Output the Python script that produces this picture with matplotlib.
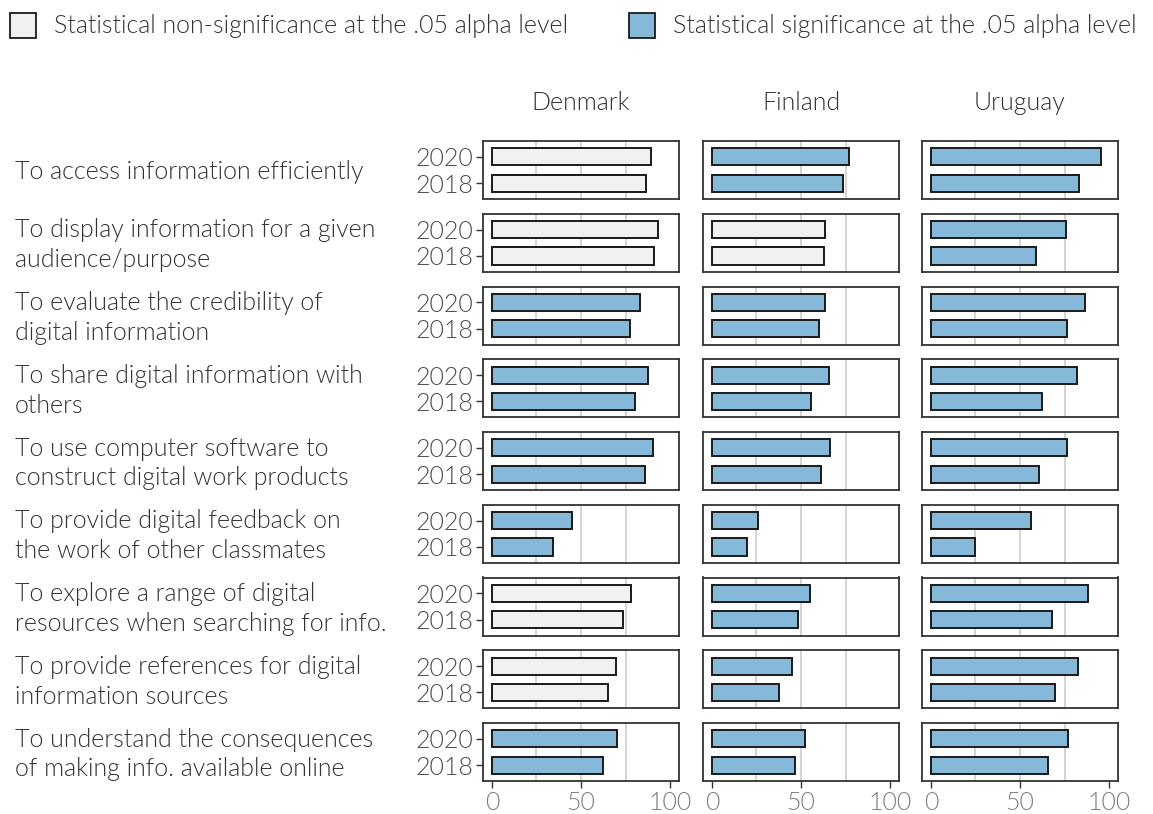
import matplotlib.pyplot as plt
from matplotlib.patches import Rectangle

plt.rcParams['font.family'] = ['Lato', 'DejaVu Sans']
plt.rcParams['font.weight'] = 300

countries = ['Denmark', 'Finland', 'Uruguay']
years = ['2020', '2018']
items = [
    'To access information efficiently',
    'To display information for a given\naudience/purpose',
    'To evaluate the credibility of\ndigital information',
    'To share digital information with\nothers',
    'To use computer software to\nconstruct digital work products',
    'To provide digital feedback on\nthe work of other classmates',
    'To explore a range of digital\nresources when searching for info.',
    'To provide references for digital\ninformation sources',
    'To understand the consequences\nof making info. available online',
]

denmark_2020 = [89.3, 93.3, 83.3, 87.6, 90.2, 45.0, 78.1, 69.8, 70.2]
denmark_2018 = [86.2, 90.7, 77.4, 80.2, 85.7, 34.5, 73.8, 65.2, 62.1]
finland_2020 = [76.9, 63.6, 63.6, 65.5, 66.0, 25.7, 55.2, 44.8, 52.4]
finland_2018 = [73.3, 63.1, 60.0, 55.7, 61.2, 19.5, 48.3, 37.6, 46.9]
uruguay_2020 = [95.5, 75.7, 86.4, 81.9, 76.2, 56.0, 87.9, 82.4, 76.7]
uruguay_2018 = [83.3, 59.0, 76.4, 62.4, 60.5, 25.0, 67.9, 69.5, 65.5]

# significance at .05 level per country and item
denmark_sig = [False, False, True, True, True, True, False, False, True]
finland_sig = [True, False, True, True, True, True, True, True, True]
uruguay_sig = [True, True, True, True, True, True, True, True, True]

values = {
    'Denmark': (denmark_2020, denmark_2018, denmark_sig),
    'Finland': (finland_2020, finland_2018, finland_sig),
    'Uruguay': (uruguay_2020, uruguay_2018, uruguay_sig),
}

W, H = 1153, 814
col_left = [483, 703, 922]
panel_w = 196
row_top0 = 141
row_step = 72.75
panel_h = 58

sig_color = '#85b8d9'
nonsig_color = '#f2f0f0'
text_color = '#333333'
tick_color = '#4d4d4d'

fig = plt.figure(figsize=(W / 100, H / 100), dpi=100)


def px_box(x, y, w, h):
    # pixel box (top-left origin) -> figure fraction rect
    return [x / W, 1 - (y + h) / H, w / W, h / H]


for r, item in enumerate(items):
    top = row_top0 + r * row_step
    for c, country in enumerate(countries):
        v20, v18, sig = values[country]
        ax = fig.add_axes(px_box(col_left[c], top, panel_w, panel_h))
        for g in [25, 50, 75]:
            ax.axvline(g, color='#c9c9c9', lw=1.1, zorder=0)
        color = sig_color if sig[r] else nonsig_color
        ax.barh([0, 1], [v20[r], v18[r]], height=0.65, color=color,
                edgecolor='#1a1a1a', linewidth=1.4, zorder=2)
        ax.set_xlim(-5, 105)
        ax.set_ylim(1.6, -0.6)
        for s in ax.spines.values():
            s.set_color('#333333')
            s.set_linewidth(1.3)
        if c == 0:
            ax.set_yticks([0, 1])
            ax.set_yticklabels(years, fontsize=18, color=tick_color)
            ax.tick_params(axis='y', length=5, width=1, color='#333333', pad=2)
        else:
            ax.set_yticks([])
        if r == len(items) - 1:
            ax.set_xticks([0, 50, 100])
            ax.set_xticklabels(['0', '50', '100'], fontsize=18, color='#7f7f7f')
            ax.tick_params(axis='x', length=5, width=1, color='#333333', pad=2)
        else:
            ax.set_xticks([])
    fig.text(15 / W, 1 - (top + panel_h / 2 + 2.5) / H, item, ha='left', va='center',
             fontsize=18, color=text_color, linespacing=1.3)

for c, country in enumerate(countries):
    fig.text((col_left[c] + panel_w / 2) / W, 1 - 103 / H, country,
             ha='center', va='center', fontsize=18, color=text_color)

# legend
legend_items = [
    (10, nonsig_color, 'Statistical non-significance at the .05 alpha level'),
    (629, sig_color, 'Statistical significance at the .05 alpha level'),
]
for x0, col, lab in legend_items:
    fig.patches.append(Rectangle((x0 / W, 1 - 38 / H), 26 / W, 25 / H,
                                 transform=fig.transFigure, facecolor=col,
                                 edgecolor='#1a1a1a', linewidth=1.3))
    fig.text((x0 + 44) / W, 1 - 26 / H, lab, ha='left', va='center',
             fontsize=18, color=text_color)

fig.savefig('out.png', dpi=100)
